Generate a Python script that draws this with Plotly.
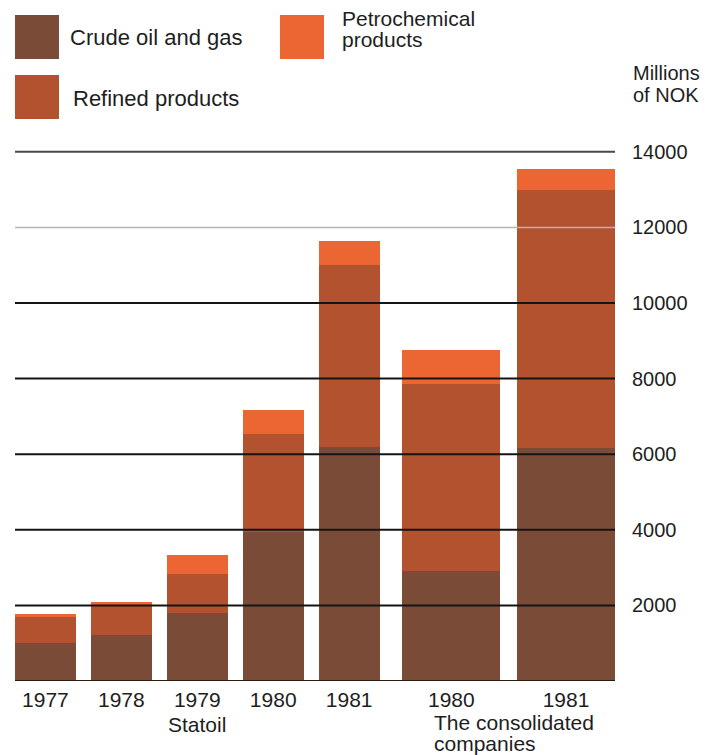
import numpy as np
import plotly.graph_objects as go

# Operating revenue by business area, millions of NOK
years = ["1977", "1978", "1979", "1980", "1981", "1980", "1981"]
groups = ["Statoil"] * 5 + ["The consolidated companies"] * 2
crude_oil_gas = [1000, 1210, 1810, 3940, 6190, 2910, 6170]
refined_products = [700, 820, 1010, 2600, 4820, 4950, 6810]
petrochemical = [60, 50, 520, 620, 620, 890, 570]

y_ticks = [2000, 4000, 6000, 8000, 10000, 12000, 14000]

C_CRUDE = "#7a4b36"
C_REFINED = "#b3522f"
C_PETRO = "#ec6634"
FONT = "Liberation Sans, Arial, sans-serif"
TXT = "#1e1e1e"

# Figure geometry (pixels)
W, H = 712, 755
ML, MR, MT, MB = 15, 97, 148, 74
PW, PH = W - ML - MR, H - MT - MB

# Bar slots: Statoil bars on a unit pitch, consolidated bars wider with a gap
n_stat = groups.count("Statoil")
n_cons = len(groups) - n_stat
w_stat, w_cons, gap = 0.8, 1.29, 0.30
pos_stat = np.arange(n_stat, dtype=float)
first_cons = pos_stat[-1] + w_stat / 2 + gap + w_cons / 2
pos_cons = first_cons + np.arange(n_cons) * 1.51
positions = np.concatenate([pos_stat, pos_cons])
widths = [w_stat] * n_stat + [w_cons] * n_cons
x_range = [-w_stat / 2, 7.5]
y_range = [0, 14100]


def px(x):
    return (x - ML) / PW


def py(y):
    return (H - MB - y) / PH


fig = go.Figure()
for name, vals, col in [
    ("Crude oil and gas", crude_oil_gas, C_CRUDE),
    ("Refined products", refined_products, C_REFINED),
    ("Petrochemical products", petrochemical, C_PETRO),
]:
    fig.add_trace(go.Bar(
        x=positions, y=vals, width=widths, name=name,
        marker=dict(color=col, line=dict(width=0)),
        showlegend=False,
    ))

# Horizontal rules drawn over the bars
rule_colors = {12000: "#b5b5b5", 14000: "#4a4a4a"}
shapes = []
for v in y_ticks:
    shapes.append(dict(
        type="line", xref="paper", yref="y", x0=0, x1=1, y0=v, y1=v,
        line=dict(color=rule_colors.get(v, "#141414"), width=2 if v != 12000 else 1.5),
        layer="above",
    ))
shapes.append(dict(type="line", xref="paper", yref="y", x0=0, x1=1, y0=0, y1=0,
                   line=dict(color="#2a1a12", width=2), layer="above"))

# Legend swatches
for (x0, y0, col) in [(15, 15, C_CRUDE), (15, 75, C_REFINED), (280, 15, C_PETRO)]:
    shapes.append(dict(type="rect", xref="paper", yref="paper",
                       x0=px(x0), x1=px(x0 + 44), y0=py(y0), y1=py(y0 + 44),
                       fillcolor=col, line=dict(width=0)))

annotations = []


def label(text, x, y, size=21, xanchor="left"):
    annotations.append(dict(
        text=text, xref="paper", yref="paper", x=px(x), y=py(y),
        xanchor=xanchor, yanchor="middle", showarrow=False,
        font=dict(family=FONT, size=size, color=TXT),
    ))


label("Crude oil and gas", 68, 38, 22)
label("Refined products", 71, 98, 22)
label("Petrochemical", 340, 18, 21)
label("products", 340, 39, 21)
label("Millions", 631, 73, 20)
label("of NOK", 631, 95, 20)

# Group captions under the year labels
stat_center = ML + (positions[2] - x_range[0]) / (x_range[1] - x_range[0]) * PW
label("Statoil", stat_center, 724, 21, xanchor="center")
cons_left = ML + (positions[n_stat] - w_cons / 2 - x_range[0]) / (x_range[1] - x_range[0]) * PW + 30
label("The consolidated", cons_left, 722, 21)
label("companies", cons_left, 743, 21)

fig.update_layout(
    width=W, height=H,
    margin=dict(l=ML, r=MR, t=MT, b=MB),
    paper_bgcolor="white", plot_bgcolor="white",
    barmode="stack", bargap=0,
    shapes=shapes, annotations=annotations,
    xaxis=dict(
        range=x_range, tickmode="array", tickvals=positions, ticktext=years,
        showgrid=False, zeroline=False, showline=False, ticks="",
        tickfont=dict(family=FONT, size=21, color=TXT), ticklabelstandoff=4,
    ),
    yaxis=dict(
        range=y_range, side="right", tickmode="array", tickvals=y_ticks,
        ticktext=[str(v) for v in y_ticks],
        showgrid=False, zeroline=False, showline=False, ticks="",
        tickfont=dict(family=FONT, size=20, color=TXT), ticklabelstandoff=16,
    ),
)

fig.write_html("out.html")
